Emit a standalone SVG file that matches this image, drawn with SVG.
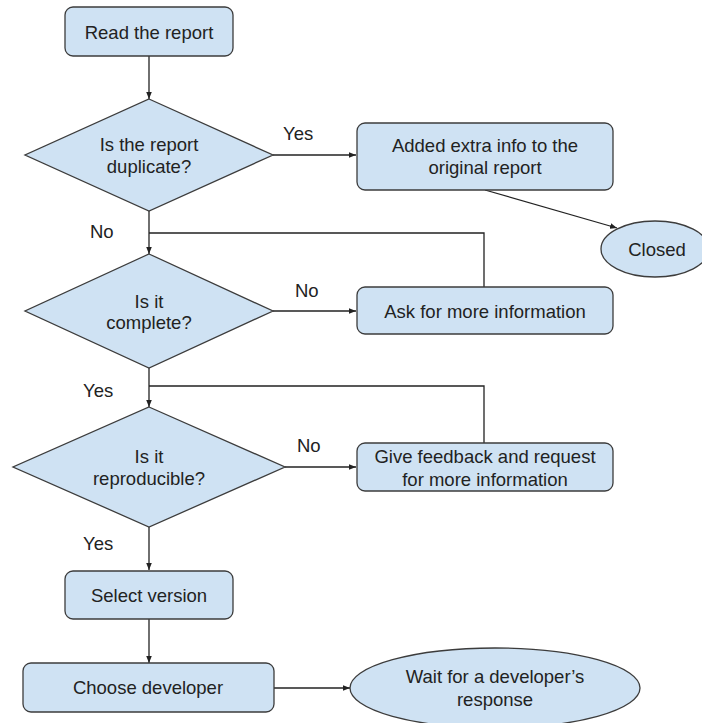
<svg xmlns="http://www.w3.org/2000/svg" width="702" height="723" viewBox="0 0 702 723">
<defs>
<style>
.n{fill:#cfe2f3;stroke:#3c3c3c;stroke-width:1.3}
.t{font-family:"Liberation Sans",Arial,sans-serif;font-size:18.5px;fill:#222;text-anchor:middle}
.l{font-family:"Liberation Sans",Arial,sans-serif;font-size:18.5px;fill:#222}
.c{fill:none;stroke:#222;stroke-width:1.3}
</style>
<marker id="a" viewBox="0 0 10 10" refX="10" refY="5" markerWidth="7" markerHeight="7" markerUnits="userSpaceOnUse" orient="auto">
<path d="M0,1 L10,5 L0,9 Z" fill="#222"/>
</marker>
</defs>
<rect width="702" height="723" fill="#fff"/>
<g id="connectors">
<path class="c" d="M149,56 V99" marker-end="url(#a)"/>
<path class="c" d="M273,155 H356" marker-end="url(#a)"/>
<path class="c" d="M485,190 L617,228" marker-end="url(#a)"/>
<path class="c" d="M149,211 V254" marker-end="url(#a)"/>
<path class="c" d="M484,287 V233 H149"/>
<path class="c" d="M273,311 H356" marker-end="url(#a)"/>
<path class="c" d="M149,367 V407" marker-end="url(#a)"/>
<path class="c" d="M484,443 V386 H149"/>
<path class="c" d="M285,467 H356" marker-end="url(#a)"/>
<path class="c" d="M149,527 V570" marker-end="url(#a)"/>
<path class="c" d="M149,619 V663" marker-end="url(#a)"/>
<path class="c" d="M274,688 H350" marker-end="url(#a)"/>
</g>
<g id="labels">
<text class="l" x="283" y="140">Yes</text>
<text class="l" x="90" y="238">No</text>
<text class="l" x="295" y="297">No</text>
<text class="l" x="83" y="397">Yes</text>
<text class="l" x="297" y="452">No</text>
<text class="l" x="83" y="550">Yes</text>
</g>
<g id="read">
<rect class="n" x="65" y="7" width="168" height="49" rx="8"/>
<text class="t" x="149" y="39">Read the report</text>
</g>
<g id="duplicate">
<polygon class="n" points="149,99 273,155 149,211 25,155"/>
<text class="t" x="149" y="151">Is the report</text>
<text class="t" x="149" y="173">duplicate?</text>
</g>
<g id="added">
<rect class="n" x="357" y="123" width="256" height="67" rx="8"/>
<text class="t" x="485" y="152">Added extra info to the</text>
<text class="t" x="485" y="174">original report</text>
</g>
<g id="closed">
<ellipse class="n" cx="655" cy="249" rx="54" ry="28"/>
<text class="t" x="657" y="256">Closed</text>
</g>
<g id="complete">
<polygon class="n" points="149,254 273,311 149,368 25,311"/>
<text class="t" x="149" y="308">Is it</text>
<text class="t" x="149" y="329">complete?</text>
</g>
<g id="ask">
<rect class="n" x="357" y="287" width="256" height="47" rx="8"/>
<text class="t" x="485" y="318">Ask for more information</text>
</g>
<g id="reproducible">
<polygon class="n" points="149,407 285,467 149,527 13,467"/>
<text class="t" x="149" y="463">Is it</text>
<text class="t" x="149" y="485">reproducible?</text>
</g>
<g id="feedback">
<rect class="n" x="357" y="443" width="256" height="48" rx="8"/>
<text class="t" x="485" y="463">Give feedback and request</text>
<text class="t" x="485" y="486">for more information</text>
</g>
<g id="select">
<rect class="n" x="65" y="571" width="168" height="48" rx="8"/>
<text class="t" x="149" y="602">Select version</text>
</g>
<g id="choose">
<rect class="n" x="23" y="663" width="251" height="49" rx="8"/>
<text class="t" x="148" y="694">Choose developer</text>
</g>
<g id="wait">
<ellipse class="n" cx="495" cy="688" rx="145" ry="40"/>
<text class="t" x="495" y="683">Wait for a developer’s</text>
<text class="t" x="495" y="706">response</text>
</g>
</svg>
